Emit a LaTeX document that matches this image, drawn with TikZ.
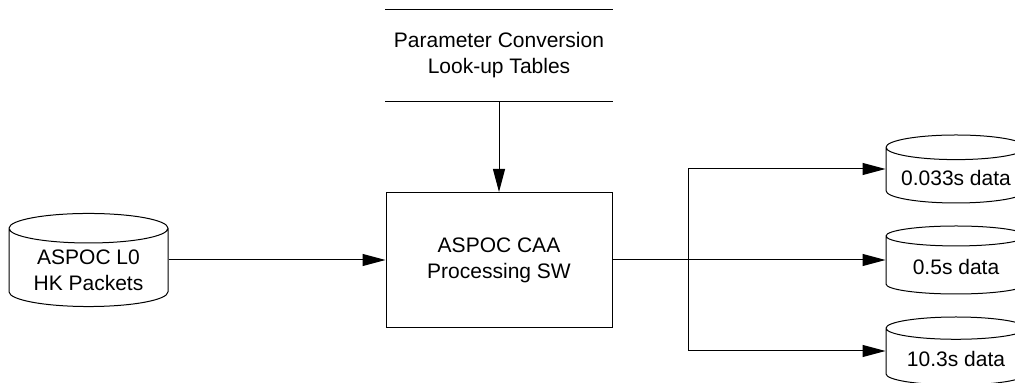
\documentclass[tikz,border=0pt]{standalone}
\usepackage{fontspec}
\setmainfont{Liberation Sans}
\usetikzlibrary{arrows.meta, shapes.geometric}
\tikzstyle{procblock} = [draw, rectangle, minimum width=113pt, minimum height=67.5pt, align=center]
\tikzstyle{storeblock} = [rectangle, minimum width=113.5pt, minimum height=45.5pt, align=center]
\tikzstyle{diskblock} = [draw, cylinder, shape border rotate=90, anchor=shape center, align=center]
\tikzstyle{outblock} = [diskblock, aspect=0.2, minimum width=70pt, minimum height=34pt]

\begin{document}
\begin{tikzpicture}[x=0.5pt, y=-0.5pt, line width=0.5pt,
    >={Triangle[length=11.5pt, width=6pt]},
    font=\fontsize{10.5pt}{13pt}\selectfont]
  \useasboundingbox (0,0) rectangle (1015,383);
  \node[storeblock] (tables) at (499, 55.5) {Parameter Conversion\\Look-up Tables};
  \node[procblock] (proc) at (499, 260) {ASPOC CAA\\Processing SW};
  \node[diskblock, aspect=0.24, minimum width=79.5pt, minimum height=45pt] (hk) at (88.5, 260) {ASPOC L0\\HK Packets};
  \node[outblock] (fast) at (956, 169) {0.033s data};
  \node[outblock] (mid) at (956, 260) {0.5s data};
  \node[outblock] (slow) at (956, 351) {10.3s data};
  \coordinate (fork) at (688, 260);

  \draw (tables.north west) -- (tables.north east);
  \draw (tables.south west) -- (tables.south east);
  \draw[->] (tables) -- (proc);
  \draw[->] (hk.shape center -| hk.east) -- (proc.west);
  \draw[->] (proc.east) -- (mid.shape center -| mid.west);
  \draw[->] (fork) |- (fast.shape center -| fast.west);
  \draw[->] (fork) |- (slow.shape center -| slow.west);
\end{tikzpicture}
\end{document}
